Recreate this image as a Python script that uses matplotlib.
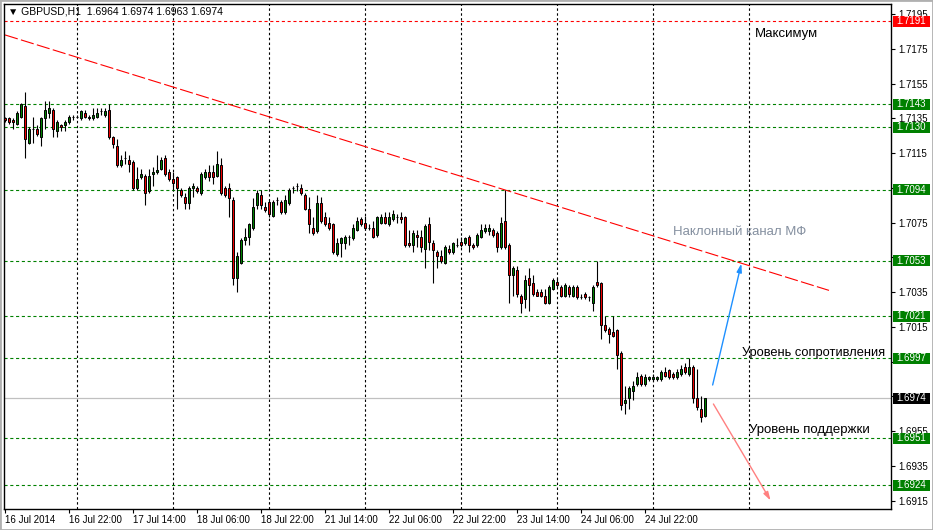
import matplotlib
matplotlib.use('Agg')
import matplotlib.pyplot as plt
import matplotlib.transforms as mtransforms
from matplotlib.patches import Rectangle
import numpy as np

plt.rcParams['font.family'] = ['Liberation Sans', 'DejaVu Sans']

# GBPUSD H1, bars from 16 Jul 2014 06:00 (bar index = hour count)
opens = [
    1.7135, 1.7135, 1.7134, 1.7132, 1.7136, 1.7142, 1.7121, 1.7129, 1.7129, 1.7124,
    1.7135, 1.7138, 1.7140, 1.7128, 1.7131, 1.7131, 1.7133, 1.7136, 1.7136, 1.7135,
    1.7138, 1.7136, 1.7135, 1.7136, 1.7139, 1.7137, 1.7140, 1.7124, 1.7119, 1.7108,
    1.7112, 1.7111, 1.7110, 1.7095, 1.7101, 1.7102, 1.7093, 1.7103, 1.7104, 1.7106,
    1.7112, 1.7104, 1.7100, 1.7101, 1.7094, 1.7090, 1.7086, 1.7095, 1.7095, 1.7092,
    1.7101, 1.7104, 1.7104, 1.7102, 1.7108, 1.7095, 1.7095, 1.7088, 1.7043, 1.7052,
    1.7065, 1.7067, 1.7072, 1.7085, 1.7091, 1.7084, 1.7087, 1.7079, 1.7088, 1.7087,
    1.7081, 1.7086, 1.7095, 1.7096, 1.7095, 1.7091, 1.7083, 1.7072, 1.7070, 1.7086,
    1.7078, 1.7075, 1.7074, 1.7057, 1.7063, 1.7063, 1.7067, 1.7066, 1.7071, 1.7077,
    1.7075, 1.7072, 1.7072, 1.7068, 1.7075, 1.7078, 1.7074, 1.7077, 1.7078, 1.7078,
    1.7078, 1.7063, 1.7062, 1.7068, 1.7067, 1.7060, 1.7074, 1.7063, 1.7058, 1.7056,
    1.7052, 1.7060, 1.7058, 1.7062, 1.7064, 1.7063, 1.7067, 1.7062, 1.7062, 1.7067,
    1.7070, 1.7070, 1.7071, 1.7069, 1.7061, 1.7076, 1.7062, 1.7045, 1.7048, 1.7033,
    1.7031, 1.7043, 1.7040, 1.7035, 1.7035, 1.7033, 1.7029, 1.7037, 1.7041, 1.7038,
    1.7033, 1.7038, 1.7033, 1.7038, 1.7032, 1.7034, 1.7032, 1.7029, 1.7041, 1.7040,
    1.7016, 1.7014, 1.7012, 1.7013, 1.7000, 1.6971, 1.6974, 1.6978, 1.6982, 1.6987,
    1.6982, 1.6985, 1.6985, 1.6985, 1.6985, 1.6989, 1.6990, 1.6988, 1.6986, 1.6988,
    1.6992, 1.6988, 1.6992, 1.6974, 1.6968, 1.6964]
highs = [
    1.7136, 1.7136, 1.7135, 1.7139, 1.7144, 1.7150, 1.7130, 1.7136, 1.7131, 1.7136,
    1.7145, 1.7145, 1.7141, 1.7134, 1.7132, 1.7134, 1.7137, 1.7137, 1.7137, 1.7140,
    1.7140, 1.7137, 1.7141, 1.7141, 1.7141, 1.7141, 1.7143, 1.7125, 1.7123, 1.7114,
    1.7116, 1.7114, 1.7111, 1.7107, 1.7106, 1.7103, 1.7106, 1.7107, 1.7114, 1.7113,
    1.7114, 1.7106, 1.7104, 1.7102, 1.7095, 1.7092, 1.7096, 1.7098, 1.7096, 1.7104,
    1.7106, 1.7108, 1.7108, 1.7116, 1.7112, 1.7096, 1.7098, 1.7090, 1.7058, 1.7066,
    1.7072, 1.7075, 1.7089, 1.7094, 1.7094, 1.7087, 1.7088, 1.7088, 1.7090, 1.7088,
    1.7091, 1.7095, 1.7096, 1.7098, 1.7097, 1.7092, 1.7090, 1.7078, 1.7091, 1.7090,
    1.7081, 1.7078, 1.7075, 1.7066, 1.7067, 1.7068, 1.7068, 1.7074, 1.7078, 1.7078,
    1.7079, 1.7074, 1.7076, 1.7079, 1.7080, 1.7081, 1.7081, 1.7082, 1.7080, 1.7081,
    1.7079, 1.7071, 1.7071, 1.7071, 1.7071, 1.7074, 1.7078, 1.7065, 1.7059, 1.7059,
    1.7062, 1.7062, 1.7064, 1.7066, 1.7067, 1.7067, 1.7068, 1.7063, 1.7069, 1.7074,
    1.7074, 1.7074, 1.7072, 1.7070, 1.7078, 1.7094, 1.7063, 1.7050, 1.7050, 1.7034,
    1.7045, 1.7049, 1.7045, 1.7037, 1.7037, 1.7037, 1.7039, 1.7043, 1.7043, 1.7039,
    1.7040, 1.7039, 1.7039, 1.7039, 1.7034, 1.7035, 1.7033, 1.7039, 1.7053, 1.7041,
    1.7021, 1.7015, 1.7021, 1.7014, 1.7001, 1.6981, 1.6981, 1.6984, 1.6989, 1.6988,
    1.6988, 1.6987, 1.6988, 1.6987, 1.6990, 1.6992, 1.6991, 1.6989, 1.6991, 1.6993,
    1.6994, 1.6997, 1.6993, 1.6991, 1.6975, 1.6974]
lows = [
    1.7133, 1.7132, 1.7129, 1.7131, 1.7135, 1.7112, 1.7120, 1.7121, 1.7125, 1.7119,
    1.7129, 1.7135, 1.7124, 1.7124, 1.7128, 1.7128, 1.7132, 1.7134, 1.7135, 1.7134,
    1.7135, 1.7134, 1.7134, 1.7135, 1.7137, 1.7136, 1.7123, 1.7118, 1.7107, 1.7107,
    1.7109, 1.7104, 1.7094, 1.7094, 1.7100, 1.7085, 1.7092, 1.7096, 1.7103, 1.7105,
    1.7102, 1.7099, 1.7094, 1.7083, 1.7090, 1.7083, 1.7083, 1.7090, 1.7092, 1.7091,
    1.7100, 1.7099, 1.7097, 1.7101, 1.7091, 1.7090, 1.7078, 1.7039, 1.7035, 1.7051,
    1.7062, 1.7062, 1.7071, 1.7083, 1.7083, 1.7081, 1.7078, 1.7078, 1.7085, 1.7080,
    1.7080, 1.7085, 1.7092, 1.7093, 1.7091, 1.7082, 1.7069, 1.7068, 1.7069, 1.7075,
    1.7073, 1.7071, 1.7057, 1.7056, 1.7055, 1.7060, 1.7062, 1.7065, 1.7070, 1.7073,
    1.7071, 1.7071, 1.7066, 1.7067, 1.7074, 1.7074, 1.7073, 1.7076, 1.7075, 1.7075,
    1.7061, 1.7061, 1.7058, 1.7061, 1.7058, 1.7049, 1.7059, 1.7040, 1.7049, 1.7052,
    1.7051, 1.7057, 1.7057, 1.7061, 1.7061, 1.7062, 1.7058, 1.7060, 1.7061, 1.7066,
    1.7069, 1.7068, 1.7067, 1.7058, 1.7060, 1.7060, 1.7029, 1.7033, 1.7032, 1.7023,
    1.7026, 1.7024, 1.7033, 1.7033, 1.7032, 1.7028, 1.7028, 1.7036, 1.7038, 1.7032,
    1.7032, 1.7032, 1.7032, 1.7031, 1.7031, 1.7031, 1.7030, 1.7024, 1.7038, 1.7008,
    1.7012, 1.7006, 1.7009, 1.6991, 1.6967, 1.6965, 1.6968, 1.6973, 1.6981, 1.6981,
    1.6981, 1.6984, 1.6984, 1.6984, 1.6984, 1.6986, 1.6985, 1.6985, 1.6985, 1.6987,
    1.6988, 1.6987, 1.6971, 1.6967, 1.6960, 1.6963]
closes = [
    1.7134, 1.7133, 1.7133, 1.7138, 1.7143, 1.7123, 1.7129, 1.7129, 1.7126, 1.7135,
    1.7140, 1.7141, 1.7129, 1.7133, 1.7130, 1.7133, 1.7136, 1.7136, 1.7136, 1.7139,
    1.7136, 1.7135, 1.7137, 1.7138, 1.7139, 1.7139, 1.7124, 1.7120, 1.7108, 1.7111,
    1.7112, 1.7109, 1.7095, 1.7100, 1.7103, 1.7092, 1.7102, 1.7104, 1.7105, 1.7111,
    1.7103, 1.7100, 1.7098, 1.7095, 1.7091, 1.7086, 1.7095, 1.7096, 1.7093, 1.7103,
    1.7104, 1.7101, 1.7101, 1.7109, 1.7092, 1.7091, 1.7089, 1.7043, 1.7056, 1.7065,
    1.7067, 1.7074, 1.7084, 1.7092, 1.7085, 1.7082, 1.7080, 1.7087, 1.7088, 1.7081,
    1.7088, 1.7094, 1.7095, 1.7096, 1.7092, 1.7083, 1.7074, 1.7069, 1.7086, 1.7076,
    1.7074, 1.7072, 1.7058, 1.7063, 1.7066, 1.7067, 1.7067, 1.7072, 1.7076, 1.7074,
    1.7072, 1.7072, 1.7067, 1.7078, 1.7078, 1.7075, 1.7078, 1.7080, 1.7078, 1.7077,
    1.7062, 1.7062, 1.7069, 1.7067, 1.7061, 1.7073, 1.7064, 1.7059, 1.7056, 1.7053,
    1.7061, 1.7058, 1.7063, 1.7062, 1.7062, 1.7066, 1.7062, 1.7061, 1.7068, 1.7071,
    1.7072, 1.7072, 1.7068, 1.7061, 1.7075, 1.7061, 1.7045, 1.7049, 1.7034, 1.7029,
    1.7042, 1.7039, 1.7034, 1.7033, 1.7033, 1.7029, 1.7038, 1.7042, 1.7039, 1.7033,
    1.7039, 1.7034, 1.7038, 1.7032, 1.7032, 1.7032, 1.7032, 1.7038, 1.7039, 1.7016,
    1.7013, 1.7011, 1.7010, 1.6999, 1.6970, 1.6973, 1.6980, 1.6981, 1.6986, 1.6982,
    1.6986, 1.6986, 1.6986, 1.6986, 1.6989, 1.6987, 1.6986, 1.6986, 1.6989, 1.6991,
    1.6989, 1.6992, 1.6974, 1.6969, 1.6963, 1.6974]

time_ticks = [0, 16, 32, 48, 64, 80, 96, 112, 128, 144, 160]
time_labels = ["16 Jul 2014", "16 Jul 22:00", "17 Jul 14:00", "18 Jul 06:00",
               "18 Jul 22:00", "21 Jul 14:00", "22 Jul 06:00", "22 Jul 22:00",
               "23 Jul 14:00", "24 Jul 06:00", "24 Jul 22:00"]
day_grid = [18, 42, 66, 90, 114, 138, 162, 186]

max_level = 1.7191
green_levels = [1.7143, 1.7130, 1.7094, 1.7053, 1.7021, 1.6997, 1.6951, 1.6924]
bid = 1.6974
price_ticks = [1.6915, 1.6935, 1.6955, 1.6975, 1.6995, 1.7015, 1.7035, 1.7055,
               1.7075, 1.7095, 1.7115, 1.7135, 1.7155, 1.7175, 1.7195]
# эти подписи закрыты ценовыми метками
hidden_ticks = [1.6975, 1.6995, 1.7055, 1.7095]

trend_x = [0, 206]
trend_y = [1.7183, 1.7036]

W, H = 933, 530
fig = plt.figure(figsize=(W / 100, H / 100), dpi=100)
ax = fig.add_axes([4 / W, 1 - 509 / H, 887 / W, 505 / H])
ax.set_xlim(-0.25, 221.5)
ax.set_ylim(1.69102, 1.72008)

o = np.array(opens); h = np.array(highs); l = np.array(lows); c = np.array(closes)
x = np.arange(len(o))

# сетка по дням
for b in day_grid:
    ax.axvline(b, color='black', ls=(0, (2.2, 2.2)), lw=0.8, zorder=1)

# уровни
ax.axhline(max_level, color='#ff0000', ls=(0, (2.8, 2.4)), lw=0.8, zorder=1)
for lv in green_levels:
    ax.axhline(lv, color='#008000', ls=(0, (2.8, 2.4)), lw=0.8, zorder=1)
ax.axhline(bid, color='#c0c0c0', lw=0.9, zorder=1)

# свечи
body_col = np.where(c >= o, '#008000', '#ee0000')
ax.vlines(x, l, h, color='black', lw=0.8, zorder=3)
ax.bar(x, np.abs(c - o), bottom=np.minimum(o, c), width=0.6, color=body_col,
       edgecolor='black', lw=0.7, zorder=4)

# наклонная линия
ax.plot(trend_x, trend_y, color='#ff0000', ls=(0, (12, 3)), lw=0.8, zorder=2)

# стрелки
ax.annotate('', xy=(184.25, 1.7053), xytext=(176.75, 1.6980),
            arrowprops=dict(arrowstyle='-|>,head_length=0.5,head_width=0.15',
                            color='#1e90ff', lw=1))
ax.annotate('', xy=(191.75, 1.69137), xytext=(176.75, 1.6972),
            arrowprops=dict(arrowstyle='-|>,head_length=0.5,head_width=0.15',
                            color='#ff8080', lw=1))

# подписи
ax.text(187.5, 1.71835, 'Максимум', fontsize=9.5, va='center', ha='left')
ax.text(167, 1.70696, 'Наклонный канал МФ', fontsize=9.5, va='center', ha='left',
        color='#8590a0')
ax.text(184.25, 1.69998, 'Уровень сопротивления', fontsize=9.3, va='center', ha='left')
ax.text(186, 1.69557, 'Уровень поддержки', fontsize=9.5, va='center', ha='left')

ax.text(4 / 887, 1 - 8 / 505, '▼ GBPUSD,H1  1.6964 1.6974 1.6963 1.6974',
        transform=ax.transAxes, fontsize=7.5, va='center', ha='left')

# оси
ax.yaxis.tick_right()
ax.set_yticks(price_ticks)
ax.set_yticklabels(['' if t in hidden_ticks else f'{t:.4f}' for t in price_ticks])
ax.tick_params(axis='y', direction='out', length=3, pad=2, labelsize=7)
ax.set_xticks(time_ticks)
ax.set_xticklabels(time_labels)
for lbl in ax.get_xticklabels():
    lbl.set_horizontalalignment('left')
ax.tick_params(axis='x', direction='out', length=3, pad=1, labelsize=7)
for s in ax.spines.values():
    s.set_linewidth(1)

# ценовые метки справа
trans = mtransforms.blended_transform_factory(ax.transAxes, ax.transData)
box_h = 11 * 0.00005754
box_w = 37 / 887
tags = [(max_level, '#ff0000')] + [(lv, '#008000') for lv in green_levels] + [(bid, '#000000')]
for p, col in tags:
    ax.add_patch(Rectangle((1 + 2 / 887, p - box_h / 2), box_w, box_h, transform=trans,
                           facecolor=col, edgecolor='none', clip_on=False, zorder=6))
    ax.text(1 + 2 / 887 + box_w / 2, p, f'{p:.4f}', transform=trans, color='white',
            fontsize=7, ha='center', va='center', clip_on=False, zorder=7)

fig.patches.append(Rectangle((0, 0), 1, 1, transform=fig.transFigure, fill=False,
                             edgecolor='#b0b0b0', lw=2))

fig.savefig('out.png', dpi=100)
